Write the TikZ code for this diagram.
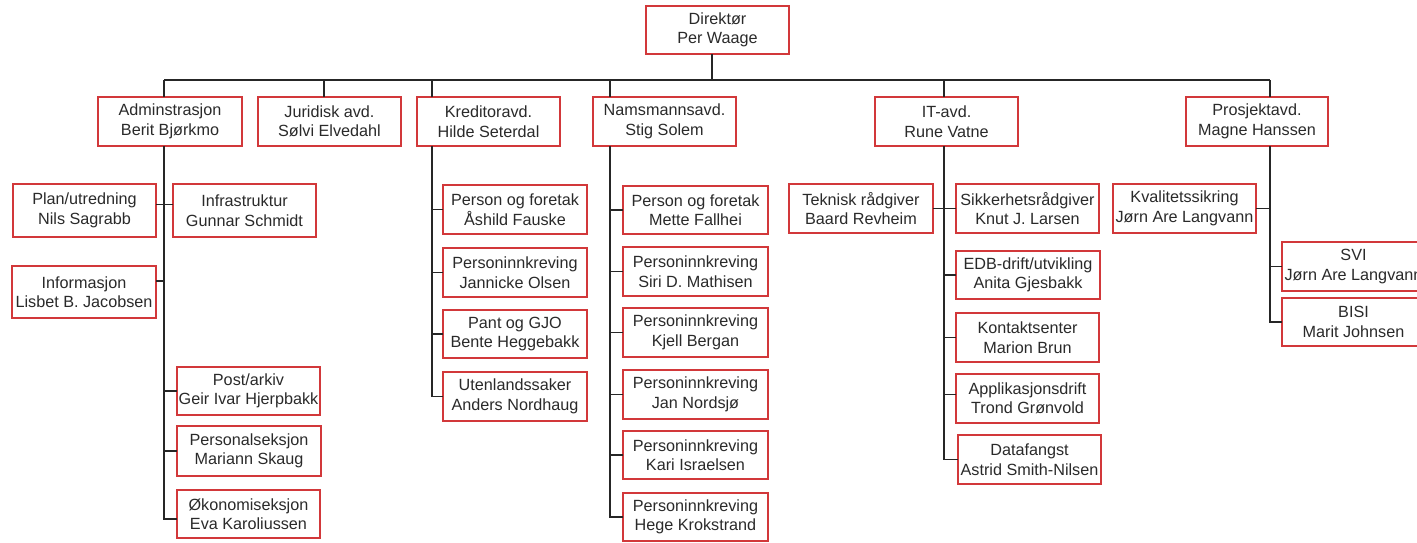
\documentclass[tikz,border=0pt]{standalone}
\usepackage{fontspec}
\setmainfont{Liberation Sans}
\begin{document}
\begin{tikzpicture}[x=1pt,y=-1pt,
  box/.style={draw=boxred,line width=1.4pt,fill=white,inner sep=0pt,outer sep=0pt,
    align=center,font=\fontsize{16.2}{19.5}\selectfont,text=txtgray},
  conn/.style={draw=linegray,line width=1.6pt}]
\definecolor{boxred}{HTML}{D2383A}
\definecolor{txtgray}{HTML}{2A2A2A}
\definecolor{linegray}{HTML}{262626}
\newcommand\bx[6]{\pgfmathsetmacro\bw{#4-#2}\pgfmathsetmacro\bh{#5-#3}%
  \node[box,minimum width=\bw pt,minimum height=\bh pt] (#1) at ({(#2+#4)/2},{(#3+#5)/2}) {#6};}
\useasboundingbox[fill=white] (0,0) rectangle (1417,542);
% column x positions on the bus
\coordinate (busL) at (164,80);
\coordinate (busR) at (1270,80);
\coordinate (dirX) at (712,80);
\coordinate (admX) at (164,80);
\coordinate (jurX) at (324,80);
\coordinate (kreX) at (432,80);
\coordinate (namX) at (610,80);
\coordinate (itX) at (944,80);
\coordinate (proX) at (1270,80);
% boxes
\bx{dir}{646}{6}{789}{54}{Direktør\\Per Waage}
\bx{adm}{98}{97}{242}{146}{Adminstrasjon\\Berit Bjørkmo}
\bx{jur}{258}{97}{401}{146}{Juridisk avd.\\Sølvi Elvedahl}
\bx{kre}{417}{97}{560}{146}{Kreditoravd.\\Hilde Seterdal}
\bx{nam}{593}{97}{736}{146}{Namsmannsavd.\\Stig Solem}
\bx{it}{875}{97}{1018}{146}{IT-avd.\\Rune Vatne}
\bx{pro}{1186}{97}{1328}{146}{Prosjektavd.\\Magne Hanssen}
% Adm column
\bx{plan}{13}{184}{156}{237}{Plan/utredning\\Nils Sagrabb}
\bx{infra}{173}{184}{316}{237}{Infrastruktur\\Gunnar Schmidt}
\bx{info}{12}{266}{156}{318}{Informasjon\\Lisbet B. Jacobsen}
\bx{post}{177}{367}{320}{415}{Post/arkiv\\Geir Ivar Hjerpbakk}
\bx{pers}{177}{426}{321}{476}{Personalseksjon\\Mariann Skaug}
\bx{oko}{177}{490}{320}{538}{Økonomiseksjon\\Eva Karoliussen}
% Kreditor column
\bx{k1}{443}{185}{587}{234}{Person og foretak\\Åshild Fauske}
\bx{k2}{443}{248}{587}{297}{Personinnkreving\\Jannicke Olsen}
\bx{k3}{443}{310}{587}{358}{Pant og GJO\\Bente Heggebakk}
\bx{k4}{443}{372}{587}{421}{Utenlandssaker\\Anders Nordhaug}
% Namsmann column
\bx{n1}{623}{186}{768}{234}{Person og foretak\\Mette Fallhei}
\bx{n2}{623}{247}{768}{296}{Personinnkreving\\Siri D. Mathisen}
\bx{n3}{623}{308}{768}{357}{Personinnkreving\\Kjell Bergan}
\bx{n4}{623}{370}{768}{419}{Personinnkreving\\Jan Nordsjø}
\bx{n5}{623}{431}{768}{479}{Personinnkreving\\Kari Israelsen}
\bx{n6}{623}{493}{768}{541}{Personinnkreving\\Hege Krokstrand}
% IT column
\bx{tek}{789}{184}{933}{233}{Teknisk rådgiver\\Baard Revheim}
\bx{sik}{956}{184}{1099}{233}{Sikkerhetsrådgiver\\Knut J. Larsen}
\bx{edb}{956}{251}{1100}{299}{EDB-drift/utvikling\\Anita Gjesbakk}
\bx{kon}{956}{313}{1099}{362}{Kontaktsenter\\Marion Brun}
\bx{app}{956}{374}{1099}{423}{Applikasjonsdrift\\Trond Grønvold}
\bx{dat}{958}{435}{1101}{484}{Datafangst\\Astrid Smith-Nilsen}
% Prosjekt column
\bx{kva}{1113}{184}{1256}{233}{Kvalitetssikring\\Jørn Are Langvann}
\bx{svi}{1282}{242}{1425}{291}{SVI\\Jørn Are Langvann}
\bx{bisi}{1282}{298}{1425}{346}{BISI\\Marit Johnsen}
% connector anchor points offset from box centres
\coordinate (okoC) at ([yshift=-5pt]oko.west);
\coordinate (planC) at ([yshift=6pt]plan.east);
\coordinate (infraC) at ([yshift=6pt]infra.west);
\coordinate (infoC) at ([yshift=11pt]info.east);
\coordinate (appC) at ([yshift=4pt]app.west);
% connectors
\draw[conn] (dir.south -| dirX) -- (dirX);
\draw[conn] (busL) -- (busR);
\foreach \c/\n in {admX/adm,jurX/jur,kreX/kre,namX/nam,itX/it,proX/pro}
  \draw[conn] (\c) -- (\c |- \n.north);
% Adm
\draw[conn] (admX |- adm.south) -- (admX |- okoC) -- (okoC);
\draw[conn] (planC) -- (infraC);
\draw[conn] (infoC) -- (admX |- infoC);
\draw[conn] (admX |- post.west) -- (post.west);
\draw[conn] (admX |- pers.west) -- (pers.west);
% Kreditor
\draw[conn] (kreX |- kre.south) -- (kreX |- k4.west) -- (k4.west);
\foreach \n in {k1,k2,k3} \draw[conn] (kreX |- \n.west) -- (\n.west);
% Namsmann
\draw[conn] (namX |- nam.south) -- (namX |- n6.west) -- (n6.west);
\foreach \n in {n1,n2,n3,n4,n5} \draw[conn] (namX |- \n.west) -- (\n.west);
% IT
\draw[conn] (itX |- it.south) -- (itX |- dat.west) -- (dat.west);
\draw[conn] (tek.east) -- (sik.west);
\foreach \n in {edb,kon} \draw[conn] (itX |- \n.west) -- (\n.west);
\draw[conn] (appC) -- (itX |- appC);
% Prosjekt
\draw[conn] (proX |- pro.south) -- (proX |- bisi.west) -- (bisi.west);
\draw[conn] (kva.east) -- (proX |- kva.east);
\draw[conn] (proX |- svi.west) -- (svi.west);
\end{tikzpicture}
\end{document}
